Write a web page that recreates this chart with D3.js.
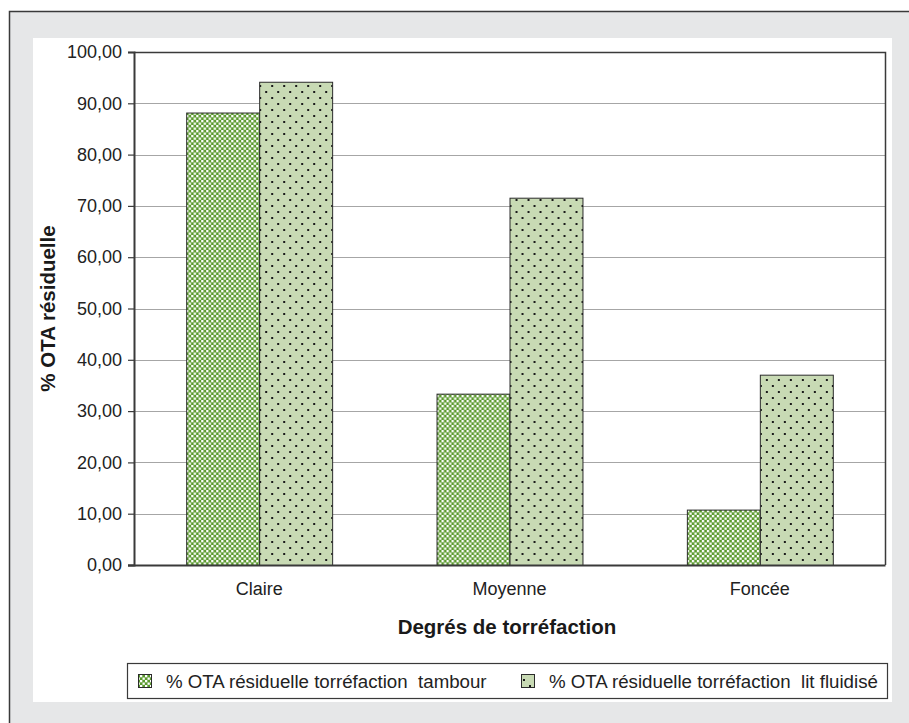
<!DOCTYPE html>
<html>
<head>
<meta charset="utf-8">
<script src="https://cdn.jsdelivr.net/npm/d3@7"></script>
<style>
  html, body { margin: 0; padding: 0; background: #ffffff; }
  svg { display: block; font-family: "Liberation Sans", Arial, Helvetica, sans-serif; }
</style>
</head>
<body>
<svg id="chart" width="909" height="723"></svg>
<script>
// Degrees of roast
const categories = ["Claire", "Moyenne", "Foncée"];
// Residual OTA (%) for each roasting process
const tambour = [88.2, 33.4, 10.8];
const litFluidise = [94.2, 71.6, 37.1];
const seriesNames = [
  "% OTA résiduelle torréfaction\u00a0 tambour",
  "% OTA résiduelle torréfaction\u00a0 lit fluidisé"
];
const yTicks = [0, 10, 20, 30, 40, 50, 60, 70, 80, 90, 100];

const svg = d3.select("#chart");
const W = 909, H = 723;

// Outer frame and white panel
svg.append("rect").attr("x", 9.5).attr("y", 11.5).attr("width", W + 10).attr("height", H + 10)
  .attr("fill", "#e6e7e8").attr("stroke", "#3a3a3a").attr("stroke-width", 1.5);
svg.append("rect").attr("x", 33).attr("y", 38).attr("width", 859).attr("height", 664)
  .attr("fill", "#ffffff");

// Fill patterns
const defs = svg.append("defs");
const checker = defs.append("pattern").attr("id", "checker")
  .attr("patternUnits", "userSpaceOnUse").attr("width", 5).attr("height", 5);
checker.append("rect").attr("width", 5).attr("height", 5).attr("fill", "#5b9a2e");
checker.append("rect").attr("x", 0).attr("y", 0).attr("width", 2.3).attr("height", 2.3).attr("fill", "#ffffff");
checker.append("rect").attr("x", 2.5).attr("y", 2.5).attr("width", 2.3).attr("height", 2.3).attr("fill", "#ffffff");

const dots = defs.append("pattern").attr("id", "dots")
  .attr("patternUnits", "userSpaceOnUse").attr("width", 12).attr("height", 12);
dots.append("rect").attr("width", 12).attr("height", 12).attr("fill", "#c8dab4");
dots.append("rect").attr("x", 1).attr("y", 1).attr("width", 2).attr("height", 2).attr("fill", "#1a1a1a");
dots.append("rect").attr("x", 7).attr("y", 7).attr("width", 2).attr("height", 2).attr("fill", "#1a1a1a");

const fills = ["url(#checker)", "url(#dots)"];

// Plot area
const plotLeft = 134, plotRight = 885, plotTop = 52, plotBottom = 565;

const x = d3.scaleBand().domain(categories).range([plotLeft, plotRight])
  .paddingInner(0.417).paddingOuter(0.2085);
const xs = d3.scaleBand().domain([0, 1]).range([0, x.bandwidth()]);
const y = d3.scaleLinear().domain([0, 100]).range([plotBottom, plotTop]);

const fmt = v => d3.format(".2f")(v).replace(".", ",");

// Gridlines
svg.append("g").selectAll("line").data(yTicks.filter(t => t > 0 && t < 100)).join("line")
  .attr("x1", plotLeft).attr("x2", plotRight)
  .attr("y1", d => Math.round(y(d)) + 0.5).attr("y2", d => Math.round(y(d)) + 0.5)
  .attr("stroke", "#a6a6a6").attr("stroke-width", 1);

// Bars
const data = categories.map((c, i) => ({ c, vals: [tambour[i], litFluidise[i]] }));
const groups = svg.append("g").selectAll("g").data(data).join("g")
  .attr("transform", d => `translate(${x(d.c)},0)`);
groups.selectAll("rect").data(d => d.vals.map((v, k) => ({ v, k }))).join("rect")
  .attr("x", d => xs(d.k) + 0.5)
  .attr("width", xs.bandwidth())
  .attr("y", d => y(d.v) + 0.5)
  .attr("height", d => plotBottom - y(d.v))
  .attr("fill", d => fills[d.k])
  .attr("stroke", "#2b2b2b").attr("stroke-width", 1);

// Plot frame (top and right)
svg.append("path")
  .attr("d", `M${plotLeft},${plotTop + 0.5}H${plotRight + 0.5}V${plotBottom}`)
  .attr("fill", "none").attr("stroke", "#3a3a3a").attr("stroke-width", 1.5);

// Y axis
const yAxis = d3.axisLeft(y).tickValues(yTicks).tickFormat(fmt).tickSize(6).tickPadding(6);
const gy = svg.append("g").attr("transform", `translate(${plotLeft},0)`).call(yAxis);
gy.select(".domain").attr("stroke", "#3a3a3a").attr("stroke-width", 2);
gy.selectAll(".tick line").attr("stroke", "#3a3a3a").attr("stroke-width", 1.2);
gy.selectAll(".tick text").attr("font-size", 18).attr("fill", "#222")
  .attr("font-family", "Liberation Sans, Arial, sans-serif");

// X axis
const xAxis = d3.axisBottom(x).tickSize(0).tickPadding(17);
const gx = svg.append("g").attr("transform", `translate(0,${plotBottom})`).call(xAxis);
gx.select(".domain").attr("d", `M${plotLeft - 6},0.5H${plotRight + 0.5}`)
  .attr("stroke", "#3a3a3a").attr("stroke-width", 2);
gx.selectAll(".tick text").attr("font-size", 18).attr("fill", "#222")
  .attr("font-family", "Liberation Sans, Arial, sans-serif");

// Axis titles
svg.append("text").attr("x", 507).attr("y", 634)
  .attr("text-anchor", "middle").attr("font-size", 20.5).attr("font-weight", "bold")
  .attr("fill", "#1a1a1a").text("Degrés de torréfaction");
svg.append("text")
  .attr("transform", `translate(55,${(plotTop + plotBottom) / 2}) rotate(-90)`)
  .attr("text-anchor", "middle").attr("font-size", 20.5).attr("font-weight", "bold")
  .attr("fill", "#1a1a1a").text("% OTA résiduelle");

// Legend
const lg = svg.append("g");
lg.append("rect").attr("x", 127.5).attr("y", 663.5).attr("width", 760).attr("height", 35)
  .attr("fill", "#ffffff").attr("stroke", "#3a3a3a").attr("stroke-width", 1.2);
const legendX = [138, 521];
seriesNames.forEach((name, k) => {
  lg.append("rect").attr("x", legendX[k] + 0.5).attr("y", 674.5).attr("width", 13).attr("height", 13)
    .attr("fill", fills[k]).attr("stroke", "#2b2b2b").attr("stroke-width", 1);
  lg.append("text").attr("x", legendX[k] + 28).attr("y", 687.5)
    .attr("font-size", 18.7).attr("fill", "#222").text(name);
});
</script>
</body>
</html>
